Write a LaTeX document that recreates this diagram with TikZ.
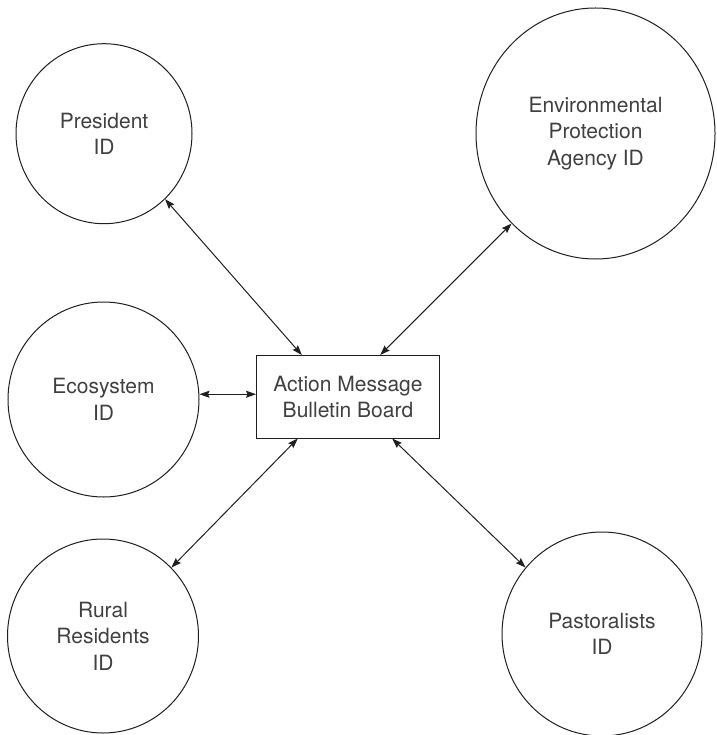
\documentclass[tikz,border=0pt]{standalone}
\usepackage{fontspec}
\setmainfont{TeX Gyre Heros}
\usetikzlibrary{shapes.geometric,arrows.meta,calc}

\tikzset{
  actor/.style={draw=black!88, line width=1pt, ellipse, inner sep=0pt,
    align=center, text=black!75,
    font=\fontsize{21}{26.5}\selectfont},
  board/.style={draw=black!88, line width=1pt, rectangle, inner sep=0pt,
    minimum width=183pt, minimum height=82.5pt, align=center, text=black!75,
    font=\fontsize{21}{26.5}\selectfont},
  link/.style={line width=1pt, draw=black!88,
    {Stealth[length=10pt,width=7pt,inset=1.5pt]}-{Stealth[length=10pt,width=7pt,inset=1.5pt]}}
}

\begin{document}
\begin{tikzpicture}[x=1pt,y=-1pt]
  \useasboundingbox (0,0) rectangle (716,735);
  \clip (0,0) rectangle (716,735);

  % central bulletin board
  \node[board] (box) at (348,396.75) {Action Message\\Bulletin Board};

  % surrounding agents
  \node[actor, minimum width=176pt, minimum height=180pt] (pres) at (104,133.7) {President\\ID};
  \node[actor, minimum width=239pt, minimum height=251pt] (epa)  at (595.5,133.5) {Environmental\\Protection\\Agency ID};
  \node[actor, minimum width=191pt, minimum height=195pt] (eco)  at (103.5,399.5) {Ecosystem\\ID};
  \node[actor, minimum width=191pt, minimum height=194pt] (rural) at (103,636) {Rural\\Residents\\ID};
  \node[actor, minimum width=200pt, minimum height=204pt] (past) at (602,634) {Pastoralists\\ID};

  % attachment points on the board's border
  \coordinate (bPres)  at ($(box.north west)!0.249!(box.north east)$);
  \coordinate (bEpa)   at ($(box.north west)!0.675!(box.north east)$);
  \coordinate (bRural) at ($(box.south west)!0.227!(box.south east)$);
  \coordinate (bPast)  at ($(box.south west)!0.74!(box.south east)$);
  \coordinate (bEco)   at ($(box.north west)!0.47!(box.south west)$);

  % two-way message links
  \draw[link] (pres.-47.7) -- (bPres);
  \draw[link] (epa.-133.1) -- (bEpa);
  \draw[link] (eco.east |- bEco) -- (bEco);
  \draw[link] (rural.45.4) -- (bRural);
  \draw[link] (past.139.5) -- (bPast);
\end{tikzpicture}
\end{document}
